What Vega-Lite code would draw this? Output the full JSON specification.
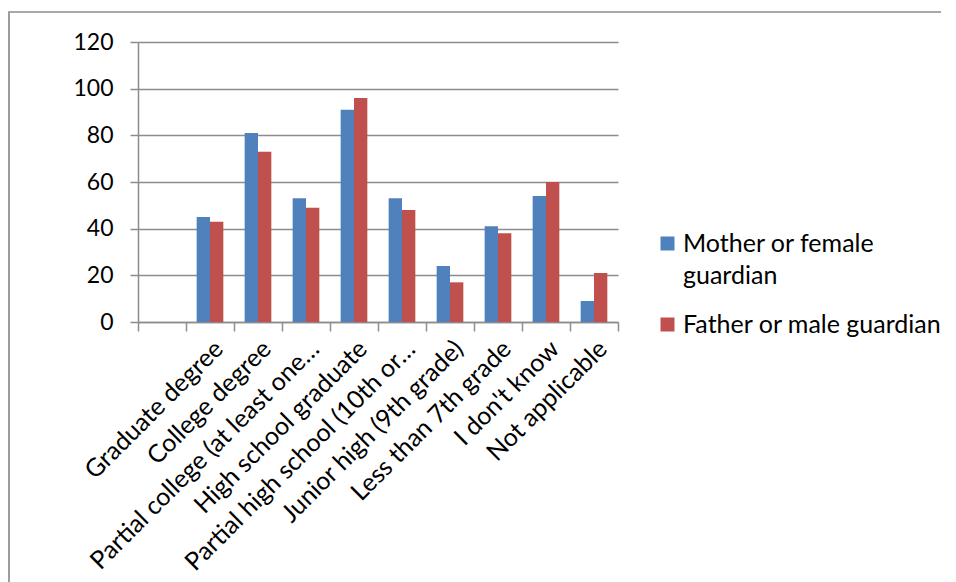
{
  "$schema": "https://vega.github.io/schema/vega-lite/v6.json",
  "width": 480,
  "height": 280,
  "autosize": {"type": "none"},
  "padding": {"left": 138, "top": 42, "right": 338, "bottom": 260},
  "background": "white",
  "data": {
    "values": [
      {"level": "Graduate degree", "parent": "Mother or female guardian", "count": 45},
      {"level": "Graduate degree", "parent": "Father or male guardian", "count": 43},
      {"level": "College degree", "parent": "Mother or female guardian", "count": 81},
      {"level": "College degree", "parent": "Father or male guardian", "count": 73},
      {"level": "Partial college (at least one…", "parent": "Mother or female guardian", "count": 53},
      {"level": "Partial college (at least one…", "parent": "Father or male guardian", "count": 49},
      {"level": "High school graduate", "parent": "Mother or female guardian", "count": 91},
      {"level": "High school graduate", "parent": "Father or male guardian", "count": 96},
      {"level": "Partial high school (10th or…", "parent": "Mother or female guardian", "count": 53},
      {"level": "Partial high school (10th or…", "parent": "Father or male guardian", "count": 48},
      {"level": "Junior high (9th grade)", "parent": "Mother or female guardian", "count": 24},
      {"level": "Junior high (9th grade)", "parent": "Father or male guardian", "count": 17},
      {"level": "Less than 7th grade", "parent": "Mother or female guardian", "count": 41},
      {"level": "Less than 7th grade", "parent": "Father or male guardian", "count": 38},
      {"level": "I don't know", "parent": "Mother or female guardian", "count": 54},
      {"level": "I don't know", "parent": "Father or male guardian", "count": 60},
      {"level": "Not applicable", "parent": "Mother or female guardian", "count": 9},
      {"level": "Not applicable", "parent": "Father or male guardian", "count": 21}
    ]
  },
  "mark": {"type": "bar"},
  "encoding": {
    "x": {
      "field": "level",
      "type": "nominal",
      "scale": {
        "domain": ["", "Graduate degree", "College degree", "Partial college (at least one…", "High school graduate", "Partial high school (10th or…", "Junior high (9th grade)", "Less than 7th grade", "I don't know", "Not applicable"],
        "paddingInner": 0,
        "paddingOuter": 0
      },
      "axis": {
        "title": null,
        "labelAngle": -45,
        "tickBand": "extent",
        "tickSize": 9,
        "tickColor": "#8c8c8c",
        "tickWidth": 1.5,
        "domainColor": "#8c8c8c",
        "domainWidth": 1.5,
        "labelFont": "Lato",
        "labelFontSize": 25,
        "labelColor": "#000000",
        "labelPadding": 5,
        "labelLimit": 400
      }
    },
    "xOffset": {
      "field": "parent",
      "type": "nominal",
      "scale": {
        "domain": ["Mother or female guardian", "Father or male guardian"],
        "paddingInner": 0,
        "paddingOuter": 0.8
      }
    },
    "y": {
      "field": "count",
      "type": "quantitative",
      "scale": {"domain": [0, 120]},
      "axis": {
        "title": null,
        "values": [0, 20, 40, 60, 80, 100, 120],
        "grid": true,
        "gridColor": "#8c8c8c",
        "gridWidth": 1.5,
        "tickSize": 8,
        "tickColor": "#8c8c8c",
        "tickWidth": 1.5,
        "domainColor": "#8c8c8c",
        "domainWidth": 1.5,
        "labelFont": "Lato",
        "labelFontSize": 23,
        "labelColor": "#000000",
        "labelPadding": 17
      }
    },
    "color": {
      "field": "parent",
      "type": "nominal",
      "scale": {
        "domain": ["Mother or female guardian", "Father or male guardian"],
        "range": ["#4F81BD", "#C0504D"]
      },
      "legend": {
        "title": [" ", " "],
        "titleOrient": "left",
        "titleAnchor": "start",
        "titleFontSize": 1,
        "titleLineHeight": 170,
        "titlePadding": 427,
        "orient": "none",
        "legendX": -129,
        "legendY": -30,
        "padding": 219,
        "strokeColor": "#8c8c8c",
        "symbolType": "square",
        "symbolSize": 196,
        "symbolStrokeWidth": 0,
        "labelFont": "Lato",
        "labelFontSize": 25,
        "labelColor": "#000000",
        "labelOffset": 3,
        "labelLimit": 400,
        "labelBaseline": "top",
        "rowPadding": 23,
        "labelExpr": "datum.label == 'Mother or female guardian' ? ['Mother or female', 'guardian'] : datum.label",
        "encode": {
          "legend": {"update": {"strokeWidth": {"value": 1.7}, "strokeDash": {"value": [932, 1491, 5000]}}},
          "labels": {"update": {"dy": {"value": -12}, "lineHeight": {"value": 32}}}
        }
      }
    }
  },
  "config": {"view": {"stroke": null}}
}
